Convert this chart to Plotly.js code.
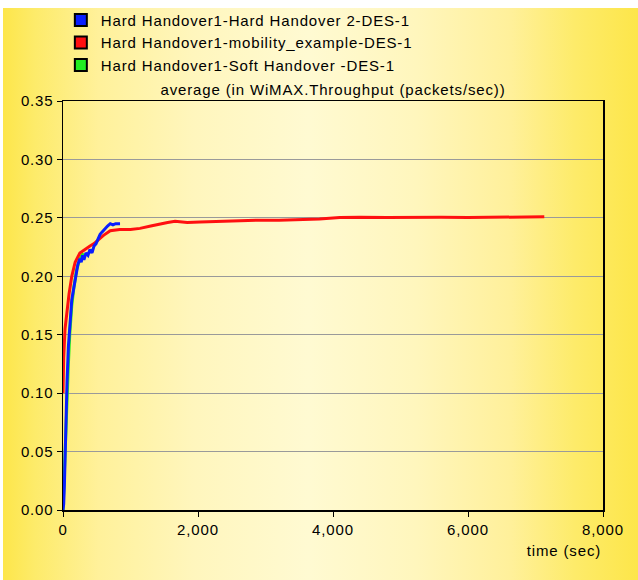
<!DOCTYPE html>
<html><head><meta charset="utf-8">
<script src="https://cdn.plot.ly/plotly-3.0.1.min.js"></script>
<style>
html,body{margin:0;padding:0;background:#fff;width:638px;height:580px;overflow:hidden;}
#bg{position:absolute;left:3px;top:8px;width:635px;height:572px;
background:linear-gradient(to right,#fde64a 0%,#fdeb6a 5%,#fff19a 15%,#fff6bd 30%,#fffad2 48%,#fff6bd 65%,#fff09a 80%,#fdeb6a 90%,#fde64a 100%);}
#chart{position:absolute;left:0;top:0;width:638px;height:580px;}
#chart text{letter-spacing:0.85px;}
#chart .legend .scrollbox{clip-path:none !important;}
</style></head>
<body><div id="bg"></div><div id="chart"></div>
<script>
// Series data (time in sec, average throughput in packets/sec)
const hardX = [0, 10, 20, 30, 45, 60, 80, 100, 115, 130, 160, 190, 220, 250, 270, 290, 310, 340, 370, 400, 430, 460, 490, 520, 550, 580, 620, 660, 700, 740, 780, 845];
const hardY = [0, 0.005, 0.02, 0.05, 0.08, 0.11, 0.14, 0.155, 0.17, 0.18, 0.19, 0.20, 0.21, 0.215, 0.212, 0.218, 0.214, 0.22, 0.218, 0.223, 0.22, 0.226, 0.228, 0.232, 0.236, 0.238, 0.241, 0.243, 0.245, 0.244, 0.245, 0.245];
const mobX = [0, 10, 30, 55, 90, 130, 180, 250, 320, 400, 460, 520, 600, 700, 840, 1000, 1140, 1300, 1440, 1550, 1660, 1750, 1840, 2030, 2300, 2600, 2900, 3200, 3500, 3800, 4100, 4400, 4800, 5200, 5600, 6000, 6400, 6800, 7130];
const mobY = [0.10, 0.13, 0.155, 0.17, 0.185, 0.20, 0.212, 0.22, 0.223, 0.226, 0.228, 0.231, 0.235, 0.239, 0.240, 0.240, 0.241, 0.243, 0.245, 0.246, 0.247, 0.2465, 0.246, 0.2465, 0.247, 0.2475, 0.248, 0.248, 0.2485, 0.249, 0.2502, 0.2505, 0.2502, 0.2505, 0.2505, 0.2502, 0.2505, 0.2505, 0.251];
const softX = [0, 20, 40, 60, 80, 100, 130, 160, 200, 250, 300];
const softY = [0, 0.035, 0.06, 0.10, 0.125, 0.15, 0.175, 0.19, 0.205, 0.215, 0.22];
const names = ["Hard Handover1-Hard Handover 2-DES-1", "Hard Handover1-mobility_example-DES-1", "Hard Handover1-Soft Handover -DES-1"];
const colors = ["#0a1eff", "#ff1010", "#22ee22"];
const xTicks = [0, 2000, 4000, 6000, 8000];
const yTicks = [0, 0.05, 0.10, 0.15, 0.20, 0.25, 0.30, 0.35];

const font = {family: "Liberation Sans, Arial, sans-serif", size: 15, color: "#000"};
const traces = [
  {x: softX, y: softY, mode: "lines", line: {color: colors[2], width: 3}, showlegend: false, hoverinfo: "skip"},
  {x: mobX, y: mobY, mode: "lines", line: {color: colors[1], width: 3}, showlegend: false},
  {x: hardX, y: hardY, mode: "lines", line: {color: colors[0], width: 3}, showlegend: false}
];
names.forEach((n, i) => traces.push({
  x: [null], y: [null], mode: "markers", name: n, legendrank: i + 1,
  marker: {symbol: "square", size: 11, color: colors[i], line: {color: "#000", width: 1}}
}));

const layout = {
  width: 638, height: 580,
  margin: {l: 63, r: 35, t: 101, b: 70, autoexpand: false},
  paper_bgcolor: "rgba(0,0,0,0)", plot_bgcolor: "rgba(0,0,0,0)",
  font: font,
  title: {text: "average (in WiMAX.Throughput (packets/sec))", font: font, x: 0.5, xref: "paper", y: 1 - 90/580, yanchor: "middle", automargin: false},
  showlegend: true,
  legend: {x: -0.004, y: 1.238, xanchor: "left", yanchor: "top", bgcolor: "rgba(0,0,0,0)", font: font, tracegroupgap: 0, itemsizing: "constant"},
  xaxis: {range: [0, 8000], tickvals: xTicks, tickformat: ",", ticks: "outside", ticklen: 5, tickcolor: "#000",
          showline: true, linecolor: "#000", linewidth: 1.5, mirror: true, showgrid: false, zeroline: false, tickfont: font},
  yaxis: {range: [0, 0.35], tickvals: yTicks, tickformat: ".2f", ticks: "outside", ticklen: 5, tickcolor: "#000",
          showline: true, linecolor: "#000", linewidth: 1.5, mirror: true, showgrid: true, gridcolor: "#9a9a9a", gridwidth: 1,
          zeroline: false, tickfont: font},
  annotations: [{text: "time (sec)", xref: "paper", yref: "paper", x: 1, xanchor: "right", xshift: -4, y: -40/409, yanchor: "middle", showarrow: false, font: font}]
};
Plotly.newPlot("chart", traces, layout, {displayModeBar: false, staticPlot: true});
</script></body></html>
